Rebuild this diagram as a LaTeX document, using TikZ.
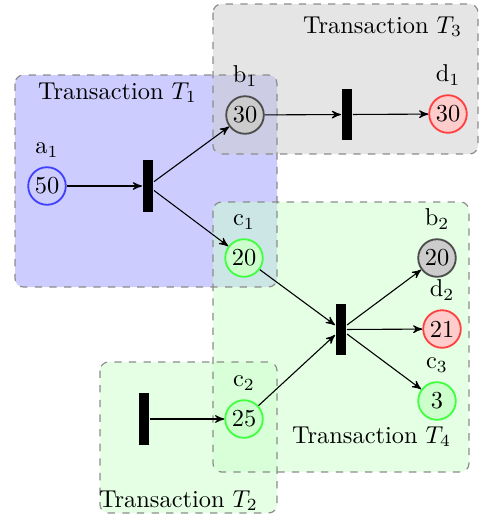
\documentclass[tikz,border=0pt]{standalone}
\usetikzlibrary{arrows}
\begin{document}
\begin{tikzpicture}[x=0.41pt,y=-0.41pt,
  place/.style={circle, minimum size=15.4pt, inner sep=0pt, line width=0.75pt},
  trans/.style={fill=black, minimum width=4.5pt, minimum height=21.3pt, inner sep=0pt},
  boxfill/.style={rounded corners=3.5pt, fill opacity=0.5},
  boxline/.style={rounded corners=3.5pt, dashed, draw=black!45, line width=0.5pt},
  title/.style={anchor=base, inner sep=0pt},
  lab/.style={anchor=base, label distance=5.1pt},
  arc/.style={->, >=stealth', line width=0.45pt}]
\useasboundingbox (0,0) rectangle (479,517);
% transaction areas
\fill[boxfill, blue!40] (15,75) rectangle (277,287);
\fill[boxfill, gray!40] (213,4) rectangle (478,154);
\fill[boxfill, green!20] (213,202) rectangle (469,472);
\fill[boxfill, green!20] (100,362) rectangle (277,513);
\draw[boxline] (15,75) rectangle (277,287);
\draw[boxline] (213,4) rectangle (478,154);
\draw[boxline] (213,202) rectangle (469,472);
\draw[boxline] (100,362) rectangle (277,513);
\node[title] (T1) at (117.5,99) {Transaction $T_1$};
\node[title] (T3) at (382.5,33) {Transaction $T_3$};
\node[title] (T4) at (371.5,443) {Transaction $T_4$};
\node[title] (T2) at (178.5,507) {Transaction $T_2$};
% places
\node[place, draw=blue!75, label={[lab]90:a$_1$}] (a1) at (47,186) {50};
\node[place, draw=black!70, fill=gray!40, label={[lab]90:b$_1$}] (b1) at (245,115) {30};
\node[place, draw=green!75, fill=green!20, label={[lab]90:c$_1$}] (c1) at (244,258) {20};
\node[place, draw=red!75, fill=red!20, label={[lab]90:d$_1$}] (d1) at (448,114) {30};
\node[place, draw=black!70, fill=gray!40, label={[lab]90:b$_2$}] (b2) at (437,258) {20};
\node[place, draw=red!75, fill=red!20, label={[lab]90:d$_2$}] (d2) at (442,329) {21};
\node[place, draw=green!75, fill=green!20, label={[lab]90:c$_3$}] (c3) at (437,401) {3};
\node[place, draw=green!75, fill=green!20, label={[lab]90:c$_2$}] (c2) at (244,419) {25};
% transitions
\node[trans] (t1) at (148,186) {};
\node[trans] (t3) at (347,114.5) {};
\node[trans] (t4) at (341,329.5) {};
\node[trans] (t2) at (144,419) {};
% arcs
\draw[arc] (a1) -- (t1);
\draw[arc] (t1) -- (b1);
\draw[arc] (t1) -- (c1);
\draw[arc] (b1) -- (t3);
\draw[arc] (t3) -- (d1);
\draw[arc] (c1) -- (t4);
\draw[arc] (c2) -- (t4);
\draw[arc] (t4) -- (b2);
\draw[arc] (t4) -- (d2);
\draw[arc] (t4) -- (c3);
\draw[arc] (t2) -- (c2);
\end{tikzpicture}
\end{document}
